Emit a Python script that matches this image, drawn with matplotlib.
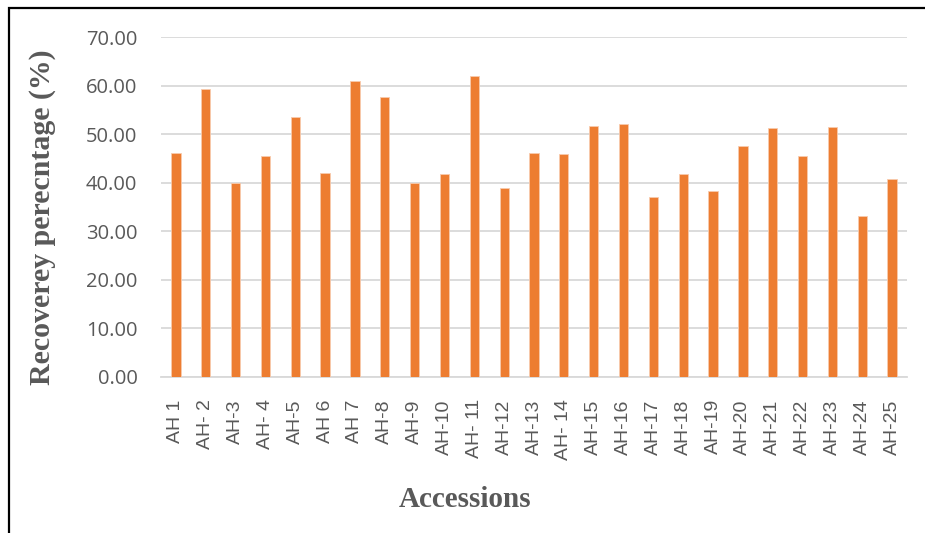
"""Recovery percentage bar chart."""

import matplotlib

matplotlib.use("Agg")
from matplotlib import pyplot as plt
from matplotlib.patches import Rectangle

accessions = [
    "AH 1", "AH- 2", "AH-3", "AH- 4", "AH-5", "AH 6", "AH 7", "AH-8", "AH-9",
    "AH-10", "AH- 11", "AH-12", "AH-13", "AH- 14", "AH-15", "AH-16", "AH-17",
    "AH-18", "AH-19", "AH-20", "AH-21", "AH-22", "AH-23", "AH-24", "AH-25",
]
recovery = [
    46.2, 59.3, 39.9, 45.6, 53.6, 42.1, 60.9, 57.7, 39.9, 41.8, 62.0, 39.0,
    46.2, 45.9, 51.8, 52.2, 37.1, 41.9, 38.4, 47.6, 51.3, 45.5, 51.5, 33.1,
    40.7,
]
y_ticks = [0, 10, 20, 30, 40, 50, 60, 70]


def run():
    """Main."""
    W, H = 925, 533
    fig = plt.figure(figsize=(W / 100, H / 100), dpi=100)
    ax = fig.add_axes([161 / W, (H - 377) / H, 746 / W, (377 - 37.3) / H])

    x = range(len(accessions))
    ax.bar(x, recovery, width=0.31, color="#ED7D31",
           edgecolor="#F8CBAD", linewidth=0.6, zorder=3)

    ax.set_xlim(-0.5, len(accessions) - 0.5)
    ax.set_ylim(0, 70)
    ax.set_yticks(y_ticks)
    ax.set_yticklabels([f"{v:.2f}" for v in y_ticks],
                       family="Open Sans", fontsize=14.5, color="#595959")
    ax.set_xticks(list(x))
    ax.set_xticklabels(accessions, rotation=90, ha="center", va="top",
                       family="Liberation Sans", fontsize=14, color="#595959")
    ax.tick_params(axis="y", length=0, pad=17)
    ax.tick_params(axis="x", length=0, pad=16)

    ax.grid(axis="y", color="#D9D9D9", linewidth=1.3, zorder=0)
    for s in ["top", "right", "left"]:
        ax.spines[s].set_visible(False)
    ax.spines["bottom"].set_color("#D9D9D9")
    ax.spines["bottom"].set_linewidth(1.3)

    fig.text(43 / W, (H - 217) / H, "Recoverey perecntage (%)", rotation=90,
             ha="center", va="center", family="Liberation Serif",
             fontweight="bold", fontsize=21.5, color="#595959")
    fig.text(465 / W, (H - 507) / H, "Accessions", ha="center",
             va="baseline", family="Liberation Serif", fontweight="bold",
             fontsize=21, color="#595959")

    # outer frame (right and bottom edges fall outside the picture)
    fig.patches.append(Rectangle((9 / W, -0.2), 1.2, (H - 8) / H + 0.2,
                                 transform=fig.transFigure, fill=False,
                                 edgecolor="black", linewidth=1.6))

    fig.savefig("out.png", dpi=100)


if __name__ == "__main__":
    run()
